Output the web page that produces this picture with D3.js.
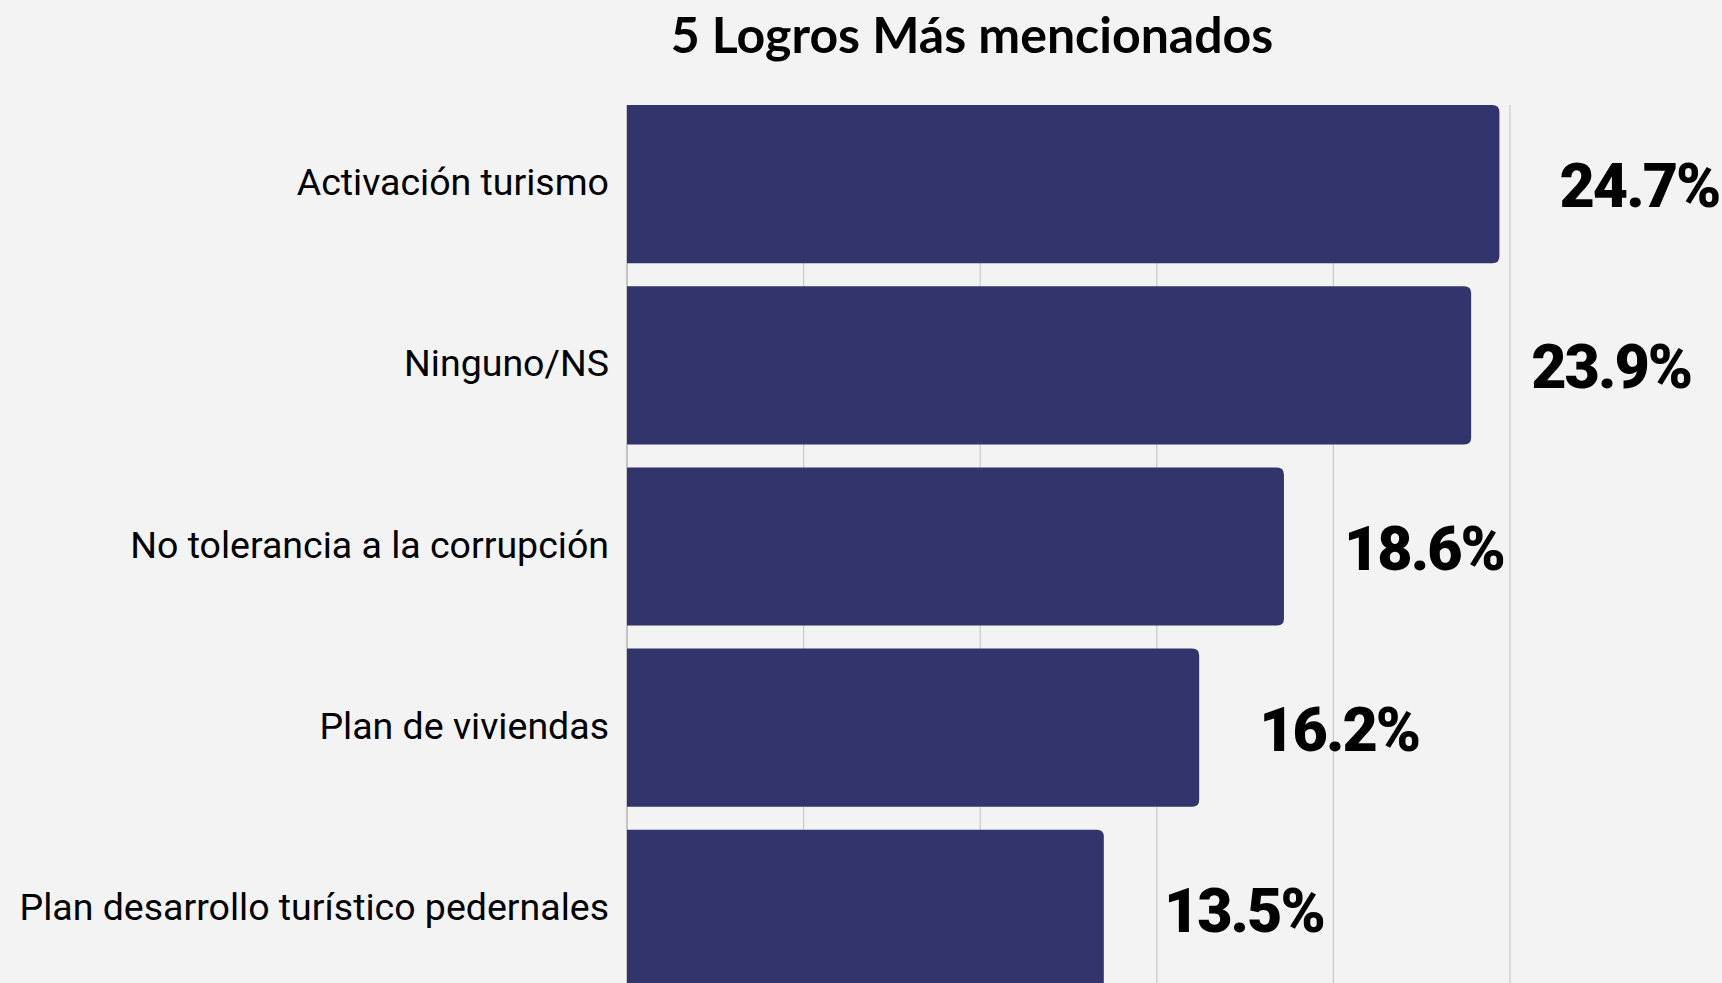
<!DOCTYPE html>
<html>
<head>
<meta charset="utf-8">
<script src="https://cdn.jsdelivr.net/npm/d3@7"></script>
<style>
  body { margin: 0; background: #f3f3f3; }
  svg { display: block; }
</style>
</head>
<body>
<div id="chart"></div>
<script>
// chart data
const categories = ["Activación turismo", "Ninguno/NS", "No tolerancia a la corrupción", "Plan de viviendas", "Plan desarrollo turístico pedernales"];
const values = [24.7, 23.9, 18.6, 16.2, 13.5];
const gridTicks = [5, 10, 15, 20, 25];
const title = "5 Logros Más mencionados";

const width = 1722;
const height = 983;
const margin = {left: 627, right: 212, top: 93.5};

const svg = d3.select("#chart")
  .append("svg")
  .attr("width", width)
  .attr("height", height);

svg.append("rect")
  .attr("width", width)
  .attr("height", height)
  .attr("fill", "#f3f3f3");

// scales
const xScale = d3.scaleLinear()
  .domain([0, 25])
  .range([margin.left, width - margin.right]);

const yScale = d3.scaleBand()
  .domain(categories)
  .range([margin.top, margin.top + 5 * 181.2])
  .paddingInner(0.127)
  .paddingOuter(0.0635);

const gridTop = yScale(categories[0]);

// vertical gridlines
svg.append("g")
  .selectAll("line")
  .data(gridTicks)
  .join("line")
    .attr("x1", d => xScale(d))
    .attr("x2", d => xScale(d))
    .attr("y1", gridTop)
    .attr("y2", height)
    .attr("stroke", "#c9c9c9")
    .attr("stroke-width", 1.2);

// axis line on the left
svg.append("line")
  .attr("x1", xScale(0))
  .attr("x2", xScale(0))
  .attr("y1", gridTop)
  .attr("y2", height)
  .attr("stroke", "#b5b5b5")
  .attr("stroke-width", 1.5);

// bars with rounded right end
const r = 7;
function barPath(d, i) {
  const x0 = xScale(0), x1 = xScale(d);
  const y0 = yScale(categories[i]), h = yScale.bandwidth();
  return `M${x0},${y0} H${x1 - r} Q${x1},${y0} ${x1},${y0 + r} V${y0 + h - r} Q${x1},${y0 + h} ${x1 - r},${y0 + h} H${x0} Z`;
}

svg.append("g")
  .selectAll("path")
  .data(values)
  .join("path")
    .attr("d", barPath)
    .attr("fill", "#31356b");

// category labels
svg.append("g")
  .selectAll("text")
  .data(categories)
  .join("text")
    .attr("x", xScale(0) - 18)
    .attr("y", d => yScale(d) + yScale.bandwidth() / 2 - 2)
    .attr("text-anchor", "end")
    .attr("dominant-baseline", "central")
    .attr("font-family", "Roboto, sans-serif")
    .attr("font-size", "37.5px")
    .attr("fill", "#000")
    .text(d => d);

// value labels
svg.append("g")
  .selectAll("text")
  .data(values)
  .join("text")
    .attr("x", d => xScale(d) + 140)
    .attr("y", (d, i) => yScale(categories[i]) + yScale.bandwidth() / 2 + 2)
    .attr("text-anchor", "middle")
    .attr("dominant-baseline", "central")
    .attr("font-family", "Roboto, sans-serif")
    .attr("font-weight", "900")
    .attr("font-size", "61px")
    .attr("letter-spacing", "-2px")
    .attr("fill", "#000")
    .text(d => d.toFixed(1) + "%");

// title
svg.append("text")
  .attr("x", 972)
  .attr("y", 34)
  .attr("text-anchor", "middle")
  .attr("dominant-baseline", "central")
  .attr("font-family", "Lato, sans-serif")
  .attr("font-weight", "bold")
  .attr("font-size", "50px")
  .attr("fill", "#000")
  .text(title);
</script>
</body>
</html>
